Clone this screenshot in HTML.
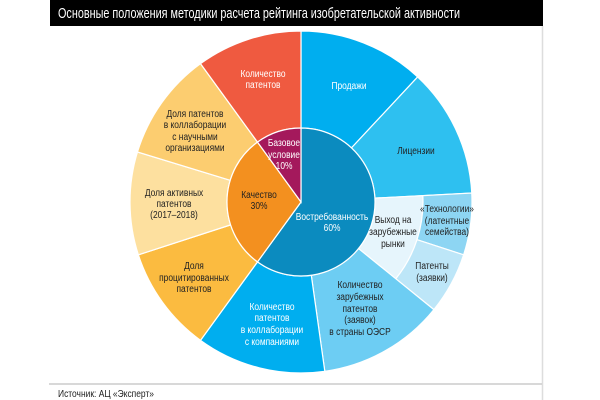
<!DOCTYPE html>
<html><head><meta charset="utf-8"><style>
html,body{margin:0;padding:0;background:#fff;width:600px;height:400px;overflow:hidden}
svg{display:block}
text{font-family:"Liberation Sans Narrow","Liberation Sans",sans-serif;font-size:10.5px;text-anchor:middle}
#lab text{transform-box:fill-box;transform-origin:center;transform:scaleX(0.8)}
.w{fill:#fff}.d{fill:#222}
</style></head><body>
<svg id="s" width="600" height="400" xmlns="http://www.w3.org/2000/svg">
<rect x="50" y="0" width="493" height="26" fill="#000"/>
<text x="58" y="18" textLength="402" lengthAdjust="spacingAndGlyphs" style="text-anchor:start;font-size:15px" fill="#fff">Основные положения методики расчета рейтинга изобретательской активности</text>
<line x1="542.5" y1="26" x2="542.5" y2="400" stroke="#ddd" stroke-width="1.5"/>
<line x1="49" y1="384" x2="542" y2="384" stroke="#ccc" stroke-width="1.5"/>
<text x="58" y="397" textLength="96" lengthAdjust="spacingAndGlyphs" style="text-anchor:start;font-size:10.5px" fill="#222">Источник: АЦ «Эксперт»</text>
<g id="g"></g>
<g id="lab">
<text class="w" x="263" y="77">Количество</text><text class="w" x="263" y="88">патентов</text>
<text class="w" x="349" y="89">Продажи</text>
<text class="d" x="416" y="154">Лицензии</text>
<text class="d" x="195" y="117">Доля патентов</text><text class="d" x="195" y="128">в коллаборации</text><text class="d" x="195" y="140">с научными</text><text class="d" x="195" y="151">организациями</text>
<text class="w" x="284" y="146">Базовое</text><text class="w" x="284" y="158">условие</text><text class="w" x="284" y="169">10%</text>
<text class="d" x="259" y="198">Качество</text><text class="d" x="259" y="209">30%</text>
<text class="d" x="174" y="196">Доля активных</text><text class="d" x="174" y="207">патентов</text><text class="d" x="174" y="218">(2017–2018)</text>
<text class="w" x="332" y="220">Востребованность</text><text class="w" x="332" y="231">60%</text>
<text class="d" x="393" y="223">Выход на</text><text class="d" x="393" y="235">зарубежные</text><text class="d" x="393" y="247">рынки</text>
<text class="d" x="447" y="212">«Технологии»</text><text class="d" x="447" y="224">(латентные</text><text class="d" x="447" y="235">семейства)</text>
<text class="d" x="432" y="269">Патенты</text><text class="d" x="432" y="281">(заявки)</text>
<text class="d" x="194" y="269">Доля</text><text class="d" x="194" y="281">процитированных</text><text class="d" x="194" y="292">патентов</text>
<text class="w" x="272" y="310">Количество</text><text class="w" x="272" y="321">патентов</text><text class="w" x="272" y="333">в коллаборации</text><text class="w" x="272" y="345">с компаниями</text>
<text class="d" x="360" y="288">Количество</text><text class="d" x="360" y="300">зарубежных</text><text class="d" x="360" y="312">патентов</text><text class="d" x="360" y="323">(заявок)</text><text class="d" x="360" y="335">в страны ОЭСР</text>
</g>
</svg>
<script>
var cx=301,cy=202;
function P(r,a){a=a*Math.PI/180;return (cx+r*Math.sin(a)).toFixed(2)+","+(cy-r*Math.cos(a)).toFixed(2);}
function seg(r0,r1,a0,a1,c){
 var l=(a1-a0)>180?1:0,d;
 if(r0==0){d="M"+cx+","+cy+" L"+P(r1,a0)+" A"+r1+","+r1+" 0 "+l+" 1 "+P(r1,a1)+" Z";}
 else d="M"+P(r0,a0)+" L"+P(r1,a0)+" A"+r1+","+r1+" 0 "+l+" 1 "+P(r1,a1)+" L"+P(r0,a1)+" A"+r0+","+r0+" 0 "+l+" 0 "+P(r0,a0)+" Z";
 return '<path d="'+d+'" fill="'+c+'" stroke="#fff" stroke-width="1.2"/>';
}
var R=171,r=74,m=122,h="";
h+=seg(r,R,0,43,"#00aeef");
h+=seg(r,R,43,87,"#2ec0f0");
h+=seg(r,m,87,129,"#e6f5fc");
h+=seg(m,R,87,108,"#8dd5f3");
h+=seg(m,R,108,129,"#bde6f8");
h+=seg(r,R,129,172,"#6dcdf3");
h+=seg(r,R,172,216,"#00aeef");
h+=seg(r,R,216,252,"#fbbb40");
h+=seg(r,R,252,287,"#fde09f");
h+=seg(r,R,287,324,"#fccd70");
h+=seg(r,R,324,360,"#ef5a40");
h+=seg(0,r,0,216,"#0b8bbf");
h+=seg(0,r,216,324,"#f3901f");
h+=seg(0,r,324,360,"#a4195c");
document.getElementById("g").innerHTML=h;
</script>
</body></html>
